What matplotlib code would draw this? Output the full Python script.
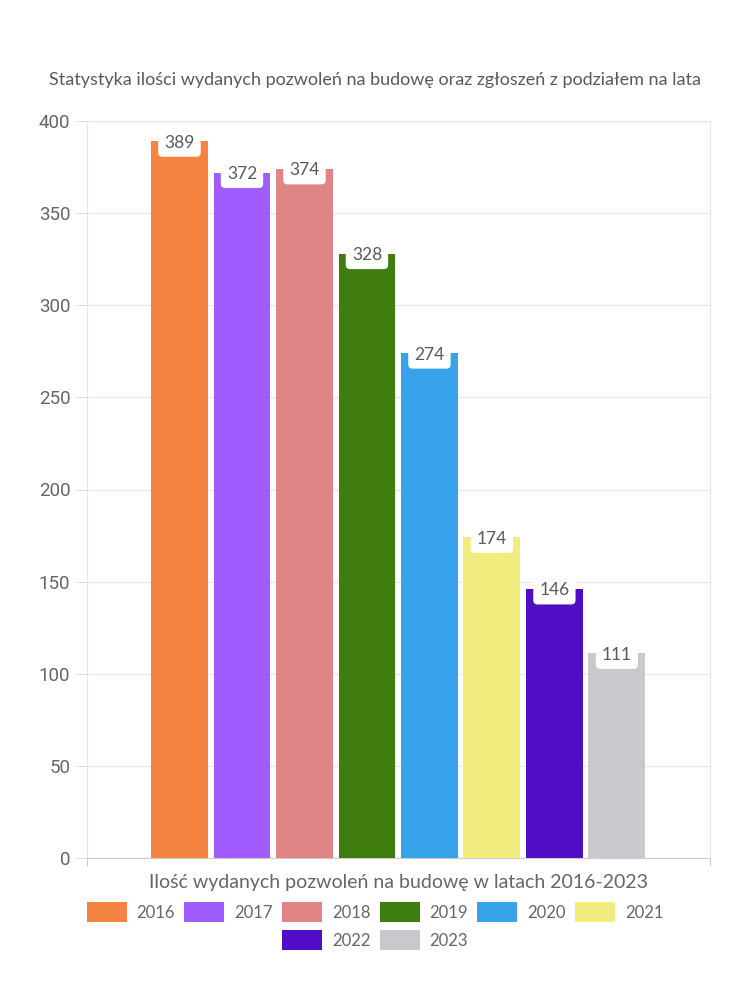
import numpy as np
import matplotlib.pyplot as plt
from matplotlib.patches import Patch

#%% Dane
lata = ['2016', '2017', '2018', '2019', '2020', '2021', '2022', '2023']
pozwolenia = [389, 372, 374, 328, 274, 174, 146, 111]
kolory = ['#F58442', '#A05CFF', '#E08585', '#3F7D0F',
          '#38A2EA', '#F0EC7E', '#520CC4', '#C9C9CD']
y_ticks = [0, 50, 100, 150, 200, 250, 300, 350, 400]

plt.rcParams['font.family'] = ['Lato', 'DejaVu Sans']
szary = '#666666'

#%% Wykres
fig = plt.figure(figsize=(7.5, 10), dpi=100)
ax = fig.add_axes([87/750, 142/1000, 623/750, 737/1000])

x = np.arange(len(lata))
bars = ax.bar(x, pozwolenia, width=0.91, color=kolory, zorder=3)

for xi, v in zip(x, pozwolenia):
    ax.annotate(str(v), (xi, v), xytext=(0, -1), textcoords='offset points',
                ha='center', va='center', fontsize=12.5, color='#5a5a5a', zorder=4,
                bbox=dict(boxstyle='round,pad=0.35,rounding_size=0.25',
                          fc='white', ec='none'))

ax.set_xlim(-1.48, 8.49)
ax.set_ylim(0, 400)
ax.set_yticks(y_ticks)
ax.set_yticklabels([str(t) for t in y_ticks], family='Roboto', fontsize=13.5, color=szary)
ax.tick_params(axis='y', length=9, color='#dddddd', pad=3)
ax.set_xticks([-1.48, 8.49])
ax.set_xticklabels(['', ''])
ax.tick_params(axis='x', length=6, color='#cccccc')
ax.grid(axis='y', color='#e6e6e6', linewidth=0.8, zorder=0)
for s in ['left', 'right', 'top']:
    ax.spines[s].set_color('#e6e6e6')
ax.spines['bottom'].set_color('#cccccc')

ax.set_xlabel('Ilość wydanych pozwoleń na budowę w latach 2016-2023',
              fontsize=14, color=szary, labelpad=2)
fig.text(0.5, 0.92, 'Statystyka ilości wydanych pozwoleń na budowę oraz zgłoszeń z podziałem na lata',
         ha='center', va='center', fontsize=13, color='#5a5a5a')

# legenda w dwóch wyśrodkowanych rzędach
uchwyty = [Patch(facecolor=c, edgecolor='none') for c in kolory]
opcje = dict(loc='center', frameon=False, fontsize=12, handlelength=2.4, handleheight=1.4,
             columnspacing=0.55, handletextpad=0.6, labelcolor=szary)
fig.legend(uchwyty[:6], lata[:6], bbox_to_anchor=(0.5, 0.088), ncol=6, **opcje)
fig.legend(uchwyty[6:], lata[6:], bbox_to_anchor=(0.5, 0.060), ncol=2, **opcje)

fig.savefig('out.png', dpi=100)
